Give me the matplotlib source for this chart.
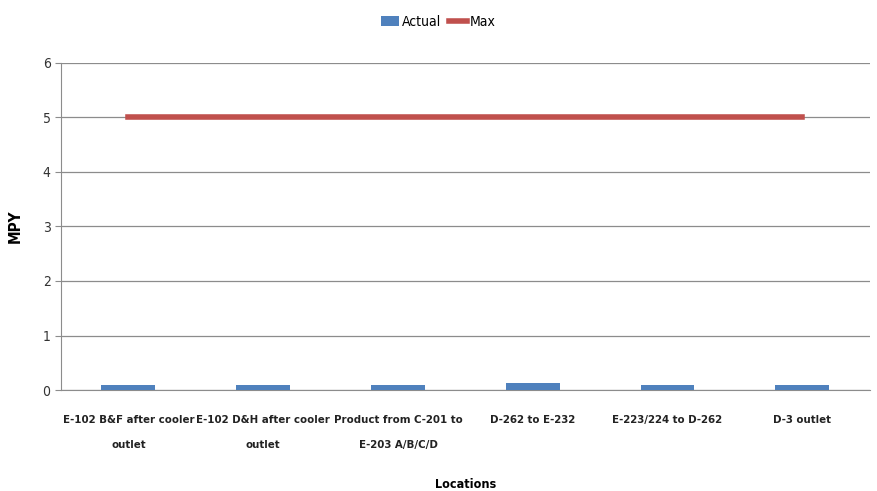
import matplotlib.pyplot as plt
import numpy as np

locations = [
    "E-102 B&F after cooler\noutlet",
    "E-102 D&H after cooler\noutlet",
    "Product from C-201 to\nE-203 A/B/C/D",
    "D-262 to E-232",
    "E-223/224 to D-262",
    "D-3 outlet",
]
actual = [0.1, 0.1, 0.1, 0.12, 0.1, 0.1]
max_limit = [5, 5, 5, 5, 5, 5]

plt.rcParams["font.family"] = ["DejaVu Sans"]
plt.rcParams["font.stretch"] = "condensed"

fig = plt.figure(figsize=(8.77, 4.91), dpi=100)
ax = fig.add_axes([0.0696, 0.2057, 0.922, 0.666])

x = np.arange(len(locations))
bars = ax.bar(x, actual, 0.4, color="#4F81BD", label="Actual", zorder=3)
line, = ax.plot(x, max_limit, color="#C0504D", linewidth=4, label="Max", zorder=4)

ax.set_xlim(-0.5, len(locations) - 0.5)
ax.set_ylim(0, 6)
ax.set_yticks(range(7))
ax.yaxis.grid(True, color="#8c8c8c", linewidth=0.9, zorder=0)
ax.set_xticks(x)
ax.set_xticklabels(locations, fontsize=8.2, fontweight="bold", color="#222222",
                   linespacing=2.9)
ax.tick_params(axis="x", length=0, pad=18)
ax.tick_params(axis="y", length=4, color="#8c8c8c", labelsize=10, labelcolor="#333333")

for side in ("top", "right"):
    ax.spines[side].set_visible(False)
for side in ("left", "bottom"):
    ax.spines[side].set_color("#8c8c8c")

ax.set_ylabel("MPY", fontsize=11, fontweight="bold", labelpad=14)
ax.set_xlabel("Locations", fontsize=9, fontweight="bold", labelpad=20)

fig.legend([bars, line], ["Actual", "Max"], loc="upper center",
           bbox_to_anchor=(0.5, 0.995), ncol=2, frameon=False,
           fontsize=10, handlelength=1.3, handletextpad=0.2, columnspacing=0.6)

fig.savefig("out.png", dpi=100)
